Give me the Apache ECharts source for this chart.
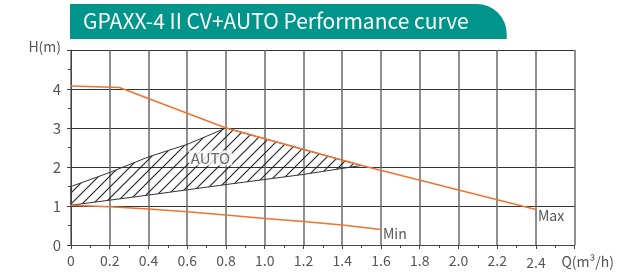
<!DOCTYPE html>
<html>
<head>
<meta charset="utf-8">
<script src="https://cdn.jsdelivr.net/npm/echarts@6/dist/echarts.min.js"></script>
<style>
  html, body { margin: 0; padding: 0; background: #fff; }
  #main { width: 617px; height: 280px; }
</style>
</head>
<body>
<div id="main"></div>
<script>
// tick labels
const xTickLabels = ['0', '0.2', '0.4', '0.6', '0.8', '1.0', '1.2', '1.4', '1.6', '1.8', '2.0', '2.2', '2.4', 'Q(m³/h)'];
const yTickLabels = ['0', '1', '2', '3', '4', 'H(m)'];

// curves, [Q, H]
const maxCurve = [[0, 4.08], [0.25, 4.04], [0.8, 3.0], [1.5, 2.04], [2.4, 0.91]];
const minCurve = [[0, 1.02], [0.2, 0.98], [0.4, 0.92], [0.6, 0.85], [0.8, 0.77], [1.0, 0.68], [1.2, 0.6], [1.4, 0.51], [1.6, 0.4]];
// AUTO area: upper edge then lower edge
const autoUpper = [[0, 1.02], [0, 1.5], [0.2, 1.86], [0.4, 2.26], [0.6, 2.58], [0.8, 3.0], [1.5, 2.04]];
const autoLower = [[0, 1.02], [0.4, 1.28], [0.8, 1.55], [1.2, 1.81], [1.5, 2.04]];
const autoLabelAt = [0.72, 2.23];

const FONT = '"Noto Sans CJK SC", "Noto Sans", sans-serif';
const ORANGE = '#f0732f';
const TXT = '#555';

/* 斜线填充 */
function hatch(step) {
  const c = document.createElement('canvas');
  c.width = c.height = step;
  const g = c.getContext('2d');
  g.strokeStyle = '#222';
  g.lineWidth = 1.1;
  g.beginPath();
  g.moveTo(0, step); g.lineTo(step, 0);
  g.moveTo(-step / 2, step / 2); g.lineTo(step / 2, -step / 2);
  g.moveTo(step / 2, step * 1.5); g.lineTo(step * 1.5, step / 2);
  g.stroke();
  return c;
}
const hatchImg = hatch(11);

const chart = echarts.init(document.getElementById('main'));
chart.setOption({
  animation: false,
  textStyle: { fontFamily: FONT },
  title: {
    text: 'GPAXX-4 II CV+AUTO Performance curve',
    left: 70, top: 4,
    padding: [5, 38, 6, 13],
    backgroundColor: '#00958a',
    borderRadius: [0, 30, 0, 0],
    textStyle: { color: '#fff', fontSize: 21, fontWeight: 'normal', fontFamily: FONT, lineHeight: 24 }
  },
  grid: { left: 71, right: 40, top: 50, bottom: 35, containLabel: false },
  xAxis: {
    type: 'value', min: 0, max: 2.6, interval: 0.2,
    axisLine: { show: true, lineStyle: { color: '#444', width: 1 } },
    axisTick: { show: true, length: 4, lineStyle: { color: '#444' } },
    minorTick: { show: true, splitNumber: 2, length: 3, lineStyle: { color: '#444' } },
    splitLine: { show: true, lineStyle: { color: '#6a6a6a', width: 1.5 } },
    axisLabel: {
      color: TXT, fontSize: 14, margin: 9, showMinLabel: true, showMaxLabel: true,
      formatter: (v, i) => {
        const t = xTickLabels[i];
        if (i === xTickLabels.length - 1) return '{q|' + t + '}';
        if (i === xTickLabels.length - 2) return '{low|' + t + '}';
        return t;
      },
      rich: {
        q: { color: TXT, fontSize: 14, fontFamily: FONT, padding: [1, 0, 0, 26] },
        low: { color: TXT, fontSize: 14, fontFamily: FONT, padding: [2, 0, 0, 0] }
      }
    }
  },
  yAxis: {
    type: 'value', min: 0, max: 5, interval: 1,
    axisLine: { show: true, lineStyle: { color: '#444', width: 1 } },
    axisTick: { show: true, length: 4, lineStyle: { color: '#444' } },
    minorTick: { show: true, splitNumber: 2, length: 3, lineStyle: { color: '#444' } },
    splitLine: { show: true, lineStyle: { color: '#333', width: 1.2 } },
    axisLabel: {
      color: TXT, fontSize: 15, margin: 10, showMaxLabel: true,
      formatter: (v, i) => {
        const t = yTickLabels[i];
        return i === yTickLabels.length - 1 ? '{h|' + t + '}' : t;
      },
      rich: { h: { color: TXT, fontSize: 14, fontFamily: FONT, padding: [0, 0, 6, 0] } }
    }
  },
  series: [
    {
      type: 'custom', name: 'AUTO', z: 2,
      data: [autoLower[0]],
      renderItem: (params, api) => {
        const pts = autoUpper.concat(autoLower.slice().reverse()).map(p => api.coord(p));
        return {
          type: 'polygon',
          shape: { points: pts },
          style: { fill: { image: hatchImg, repeat: 'repeat' }, stroke: '#333', lineWidth: 1 }
        };
      }
    },
    {
      type: 'scatter', z: 3,
      data: [autoLabelAt],
      symbolSize: 1,
      itemStyle: { color: 'rgba(0,0,0,0)' },
      label: {
        show: true, position: 'inside', formatter: 'AUTO',
        color: '#444', fontSize: 15, fontFamily: FONT,
        backgroundColor: '#fff', padding: [0, 2]
      }
    },
    {
      type: 'line', name: 'Max', z: 4,
      data: maxCurve, symbol: 'none',
      lineStyle: { color: ORANGE, width: 1.5 },
      endLabel: { show: true, formatter: 'Max', color: TXT, fontSize: 14, fontFamily: FONT, distance: 2, offset: [0, 6] }
    },
    {
      type: 'line', name: 'Min', z: 4,
      data: minCurve, symbol: 'none',
      lineStyle: { color: ORANGE, width: 1.5 },
      endLabel: { show: true, formatter: 'Min', color: TXT, fontSize: 14, fontFamily: FONT, distance: 2, offset: [0, 4] }
    }
  ]
});
</script>
</body>
</html>
